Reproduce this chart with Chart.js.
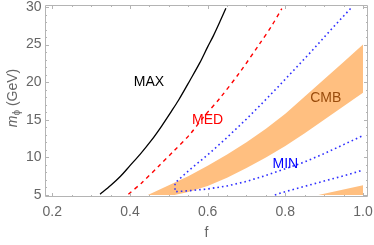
<!DOCTYPE html>
<html><head><meta charset="utf-8">
<script src="https://cdn.jsdelivr.net/npm/chart.js@4"></script>
<style>html,body{margin:0;padding:0;background:#fff}canvas{display:block}</style>
</head><body>
<canvas id="c" width="374" height="245" style="width:374px;height:245px"></canvas>
<script>
// ---- data ----
const xTicks = [0.2, 0.4, 0.6, 0.8, 1.0];
const yTicks = [5, 10, 15, 20, 25, 30];

const maxF = [0.323, 0.35, 0.375, 0.40, 0.426, 0.455, 0.482, 0.505, 0.525, 0.555, 0.58, 0.60, 0.615, 0.632, 0.647];
const maxM = [5.1, 6.25, 7.45, 8.9, 10.4, 12.25, 14.2, 16.0, 17.6, 20.3, 22.6, 24.7, 26.2, 28.1, 29.85];

const medF = [0.396, 0.43, 0.477, 0.51, 0.555, 0.59, 0.632, 0.684, 0.735, 0.765, 0.791];
const medM = [5.1, 6.6, 9.0, 10.7, 13.1, 15.4, 17.9, 21.4, 25.2, 27.5, 29.8];

// MIN contour: upper branch (top -> down), then lower branch (left -> right)
const minUpperF = [0.968, 0.916, 0.869, 0.82, 0.778, 0.748, 0.70, 0.649, 0.606, 0.555, 0.516];
const minUpperM = [29.8, 26.9, 24.2, 21.5, 19.2, 17.6, 15.1, 12.6, 10.6, 8.4, 6.6];
const minMidF = [0.516, 0.55, 0.60, 0.65, 0.70, 0.75, 0.80, 0.85, 0.90, 0.95, 1.0];
const minMidM = [5.44, 5.55, 5.8, 6.2, 6.8, 7.6, 8.5, 9.4, 10.5, 11.7, 12.9];
const minLowF = [0.773, 0.80, 0.85, 0.90, 0.95, 1.0];
const minLowM = [5.0, 5.45, 6.15, 6.85, 7.55, 8.3];

// CMB band
const cmbUpperF = [0.446, 0.50, 0.55, 0.60, 0.65, 0.70, 0.75, 0.80, 0.85, 0.90, 0.95, 1.0];
const cmbUpperM = [5.0, 6.3, 7.5, 8.9, 10.4, 12.0, 13.8, 15.8, 18.1, 20.4, 22.7, 25.0];
const cmbLowerF = [1.0, 0.95, 0.90, 0.85, 0.80, 0.75, 0.70, 0.65, 0.60, 0.55, 0.515, 0.446];
const cmbLowerM = [18.6, 16.8, 15.0, 13.2, 11.5, 10.0, 8.6, 7.3, 6.2, 5.4, 5.0, 5.0];
const cmbSmallF = [0.885, 1.0, 1.0, 0.885];
const cmbSmallM = [5.0, 6.3, 5.0, 5.0];

const labelText = ['MAX', 'MED', 'CMB', 'MIN'];
const labelF = [0.449, 0.60, 0.904, 0.80];
const labelM = [19.96, 14.9, 17.9, 9.1];

// ---- build ----
const pts = (fs, ms) => fs.map((f, i) => ({x: f, y: ms[i]}));
const FONT = "'Liberation Sans', Arial, sans-serif";
const GRAY = '#666666';
const FRAME = '#b4b4b4';
const labelColors = ['#000000', '#ff0000', '#9a4c0c', '#0000ff'];
const ORANGE = 'rgb(255,191,128)';

const lineDefaults = {showLine: true, pointRadius: 0, fill: false};

const framePlugin = {
  id: 'frame',
  afterDatasetsDraw(chart) {
    const {ctx, chartArea: a, scales: {x, y}} = chart;
    ctx.save();
    ctx.strokeStyle = FRAME;
    ctx.lineWidth = 1;
    ctx.beginPath();
    ctx.rect(a.left + 0.5, a.top + 0.5, a.right - a.left - 1, a.bottom - a.top - 1);
    ctx.stroke();
    ctx.beginPath();
    for (let k = 0; k <= 16; k++) {
      const v = 0.2 + k * 0.05;
      const major = k % 4 === 0;
      const len = major ? 4 : 2;
      const px = Math.round(x.getPixelForValue(v)) + 0.5;
      ctx.moveTo(px, a.bottom); ctx.lineTo(px, a.bottom - len);
      ctx.moveTo(px, a.top); ctx.lineTo(px, a.top + len);
    }
    for (let v = 5; v <= 30; v++) {
      const major = v % 5 === 0;
      const len = major ? 4 : 2;
      const py = Math.round(y.getPixelForValue(v)) + 0.5;
      ctx.moveTo(a.left, py); ctx.lineTo(a.left + len, py);
      ctx.moveTo(a.right, py); ctx.lineTo(a.right - len, py);
    }
    ctx.stroke();
    // curve labels
    ctx.font = '14px ' + FONT;
    ctx.textAlign = 'center';
    ctx.textBaseline = 'middle';
    labelText.forEach((t, i) => {
      ctx.fillStyle = labelColors[i];
      ctx.fillText(t, x.getPixelForValue(labelF[i]), y.getPixelForValue(labelM[i]));
    });
    ctx.restore();
  },
  afterDraw(chart) {
    const {ctx} = chart;
    ctx.save();
    ctx.translate(13, 98);
    ctx.rotate(-Math.PI / 2);
    ctx.fillStyle = GRAY;
    ctx.textBaseline = 'middle';
    ctx.textAlign = 'left';
    const f1 = 'italic 14px ' + FONT, f2 = '10px ' + FONT, f3 = '14px ' + FONT;
    ctx.font = f1; const w1 = ctx.measureText('m').width;
    ctx.font = f2; const w2 = ctx.measureText('\u03d5').width;
    ctx.font = f3; const w3 = ctx.measureText(' (GeV)').width;
    let xs = -(w1 + w2 + w3) / 2;
    ctx.font = f1; ctx.fillText('m', xs, 0); xs += w1;
    ctx.font = f2; ctx.fillText('\u03d5', xs, 4); xs += w2;
    ctx.font = f3; ctx.fillText(' (GeV)', xs, 0);
    ctx.restore();
  }
};

new Chart(document.getElementById('c'), {
  type: 'scatter',
  data: {
    datasets: [
      Object.assign({}, lineDefaults, {data: pts(maxF, maxM), borderColor: '#000000', borderWidth: 1.3, tension: 0.3}),
      Object.assign({}, lineDefaults, {data: pts(medF, medM), borderColor: '#ff0000', borderWidth: 1.4, borderDash: [4, 4], tension: 0.3}),
      Object.assign({}, lineDefaults, {data: pts(minUpperF, minUpperM).concat(pts(minMidF, minMidM)), borderColor: '#2f2fff', borderWidth: 1.6, borderDash: [1.6, 3], tension: 0}),
      Object.assign({}, lineDefaults, {data: pts(minLowF, minLowM), borderColor: '#2f2fff', borderWidth: 1.6, borderDash: [1.6, 3], tension: 0}),
      {data: pts(cmbUpperF, cmbUpperM).concat(pts(cmbLowerF, cmbLowerM)), showLine: true, pointRadius: 0, borderWidth: 0, borderColor: ORANGE, backgroundColor: ORANGE, fill: 'shape', tension: 0},
      {data: pts(cmbSmallF, cmbSmallM), showLine: true, pointRadius: 0, borderWidth: 0, borderColor: ORANGE, backgroundColor: ORANGE, fill: 'shape', tension: 0}
    ]
  },
  options: {
    responsive: false,
    animation: false,
    devicePixelRatio: 1,
    layout: {padding: {top: 5, right: 6, left: 0, bottom: 0}},
    plugins: {legend: {display: false}, tooltip: {enabled: false}},
    scales: {
      x: {
        type: 'linear', min: 0.1812, max: 1.0129,
        afterBuildTicks: s => { s.ticks = xTicks.map(v => ({value: v})); },
        afterFit: s => { s.height = 48; s.paddingLeft = 0; s.paddingRight = 0; },
        grid: {display: false, drawTicks: false},
        border: {display: false},
        ticks: {padding: 6.5, color: GRAY, font: {family: FONT, size: 14}, autoSkip: false, maxRotation: 0, callback: v => Number(v).toFixed(1)},
        title: {display: true, text: 'f', color: GRAY, font: {family: FONT, size: 14}, padding: {top: 0, bottom: 3.6}}
      },
      y: {
        type: 'linear', min: 4.73, max: 30.27,
        afterBuildTicks: s => { s.ticks = yTicks.map(v => ({value: v})); },
        afterFit: s => { s.width = 45; s.paddingTop = 0; s.paddingBottom = 0; },
        grid: {display: false, drawTicks: false},
        border: {display: false},
        ticks: {padding: 3.5, color: GRAY, font: {family: FONT, size: 14}, autoSkip: false, callback: v => String(v)}
      }
    }
  },
  plugins: [framePlugin]
});
</script>
</body></html>
